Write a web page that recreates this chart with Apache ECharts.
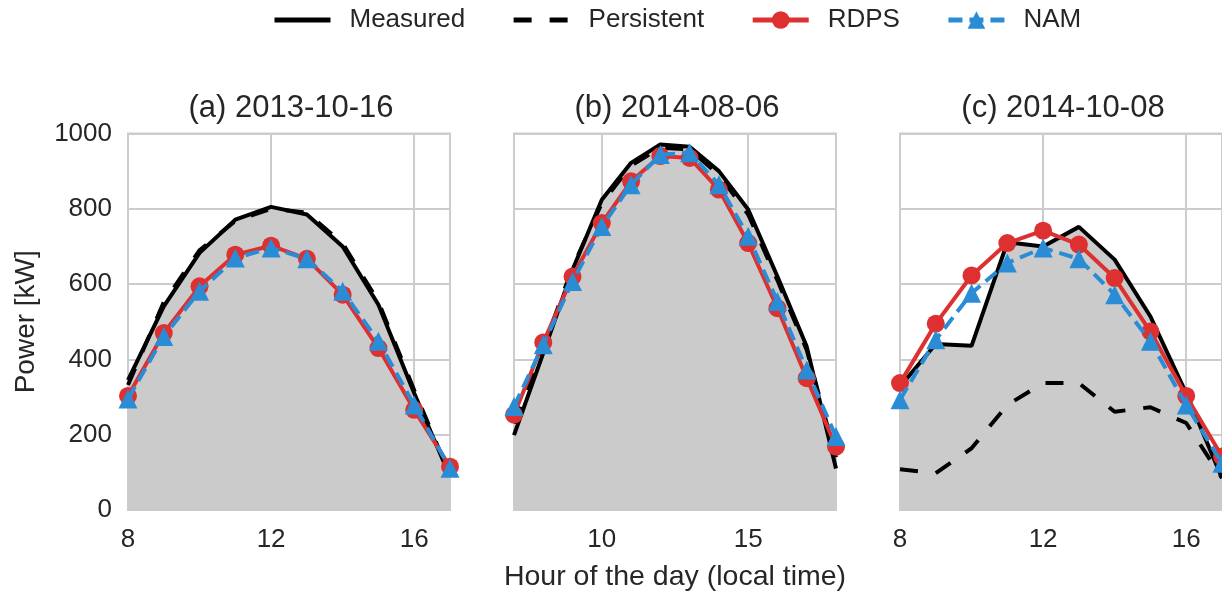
<!DOCTYPE html>
<html><head><meta charset="utf-8">
<script src="https://cdn.jsdelivr.net/npm/echarts@6/dist/echarts.min.js"></script>
<style>html,body{margin:0;padding:0;background:#fff}#c{width:1222px;height:600px}</style>
</head><body><div id="c"></div>
<script>
const seriesNames = ['Measured', 'Persistent', 'RDPS', 'NAM'];
const panelTitles = ['(a) 2013-10-16', '(b) 2014-08-06', '(c) 2014-10-08'];
const yTicks = [0, 200, 400, 600, 800, 1000];

const hoursA = [8, 9, 10, 11, 12, 13, 14, 15, 16, 17];
const measuredA = [345, 541, 683, 771, 805, 785, 700, 545, 310, 89];
const persistentA = [332, 552, 690, 768, 800, 790, 708, 553, 318, 92];
const rdpsA = [303, 470, 594, 678, 702, 667, 572, 430, 266, 115];
const namA = [295, 461, 581, 669, 696, 667, 581, 448, 279, 111];
const xTicksA = [8, 12, 16];

const hoursB = [7, 8, 9, 10, 11, 12, 13, 14, 15, 16, 17, 18];
const measuredB = [199, 417, 638, 824, 922, 971, 965, 900, 798, 620, 434, 110];
const persistentB = [230, 430, 645, 815, 915, 962, 958, 890, 785, 610, 425, 140];
const rdpsB = [253, 445, 620, 762, 873, 940, 935, 851, 709, 536, 350, 168];
const namB = [275, 439, 607, 753, 864, 944, 949, 864, 727, 554, 372, 195];
const xTicksB = [10, 15];

const hoursC = [8, 9, 10, 11, 12, 13, 14, 15, 16, 17];
const measuredC = [328, 441, 436, 711, 700, 752, 665, 514, 310, 85];
const persistentC = [108, 98, 164, 279, 337, 337, 261, 273, 231, 85];
const rdpsC = [337, 495, 623, 709, 742, 705, 616, 474, 303, 142];
const namC = [293, 452, 576, 656, 696, 667, 572, 448, 279, 124];
const xTicksC = [8, 12, 16];

const panels = [
  {hours: hoursA, m: measuredA, p: persistentA, r: rdpsA, n: namA, ticks: xTicksA, min: 8, max: 17},
  {hours: hoursB, m: measuredB, p: persistentB, r: rdpsB, n: namB, ticks: xTicksB, min: 7, max: 18},
  {hours: hoursC, m: measuredC, p: persistentC, r: rdpsC, n: namC, ticks: xTicksC, min: 8, max: 17}
];

const FONT = 'Liberation Sans, Arial, Helvetica, sans-serif';
const TXT = '#262626';
const GRIDC = '#cccccc';
const RED = '#dc3130', BLUE = '#2b8cd6';
const lefts = [128, 514, 900];
const W = 322, TOP = 133.5, H = 376.5;

const pair = (xs, ys) => xs.map((x, i) => [x, ys[i]]);

const grids = [], xAxes = [], yAxes = [], series = [], titles = [];
panels.forEach((pn, i) => {
  grids.push({left: lefts[i], top: TOP, width: W, height: H, show: true,
    borderColor: GRIDC, borderWidth: 2, backgroundColor: 'transparent'});
  titles.push({text: panelTitles[i], left: lefts[i] + W / 2 - 3, top: 88, textAlign: 'center',
    textStyle: {fontFamily: FONT, fontSize: 31, fontWeight: 'normal', color: TXT}});
  xAxes.push({type: 'value', gridIndex: i, min: pn.min, max: pn.max,
    axisLine: {show: false},
    axisTick: {show: false, customValues: pn.ticks},
    axisLabel: {customValues: pn.ticks, margin: 17, fontFamily: FONT, fontSize: 26, color: TXT},
    splitLine: {show: true, lineStyle: {color: GRIDC, width: 2}},
    name: i === 1 ? 'Hour of the day (local time)' : '',
    nameLocation: 'middle', nameGap: 53,
    nameTextStyle: {fontFamily: FONT, fontSize: 28.5, color: TXT}});
  yAxes.push({type: 'value', gridIndex: i, min: 0, max: 1000, interval: 200,
    axisLine: {show: false}, axisTick: {show: false},
    axisLabel: {show: i === 0, margin: 16, fontFamily: FONT, fontSize: 26, color: TXT,
      formatter: v => String(v)},
    splitLine: {show: true, lineStyle: {color: GRIDC, width: 2}},
    name: i === 0 ? 'Power [kW]' : '', nameLocation: 'middle', nameGap: 88, nameRotate: 90,
    nameTextStyle: {fontFamily: FONT, fontSize: 28, color: TXT}});
  series.push({name: seriesNames[0], type: 'line', xAxisIndex: i, yAxisIndex: i,
    data: pair(pn.hours, pn.m), symbol: 'none', z: 2,
    lineStyle: {color: '#000', width: 4}, itemStyle: {color: 'rgba(0,0,0,0)'},
    areaStyle: {color: '#cbcbcb', opacity: 1}});
  series.push({name: seriesNames[1], type: 'line', xAxisIndex: i, yAxisIndex: i,
    data: pair(pn.hours, pn.p), symbol: 'none', z: 3,
    lineStyle: {color: '#000', width: 4, type: [18, 18]}, itemStyle: {color: 'rgba(0,0,0,0)'}});
  series.push({name: seriesNames[2], type: 'line', xAxisIndex: i, yAxisIndex: i,
    data: pair(pn.hours, pn.r), symbol: 'circle', symbolSize: 18, z: 4,
    lineStyle: {color: RED, width: 4}, itemStyle: {color: RED}});
  series.push({name: seriesNames[3], type: 'line', xAxisIndex: i, yAxisIndex: i,
    data: pair(pn.hours, pn.n), symbol: 'triangle', symbolSize: 19, z: 5,
    lineStyle: {color: BLUE, width: 4, type: [14, 7]}, itemStyle: {color: BLUE}});
});

const chart = echarts.init(document.getElementById('c'), null, {renderer: 'canvas'});
chart.setOption({
  animation: false,
  backgroundColor: '#fff',
  title: titles,
  legend: {data: seriesNames, left: 267, top: 2, itemWidth: 56, itemHeight: 22, itemGap: 46,
    lineStyle: {width: 5},
    textStyle: {fontFamily: FONT, fontSize: 26, color: TXT, padding: [0, 0, 0, 14]}},
  grid: grids, xAxis: xAxes, yAxis: yAxes, series: series
});
</script></body></html>
